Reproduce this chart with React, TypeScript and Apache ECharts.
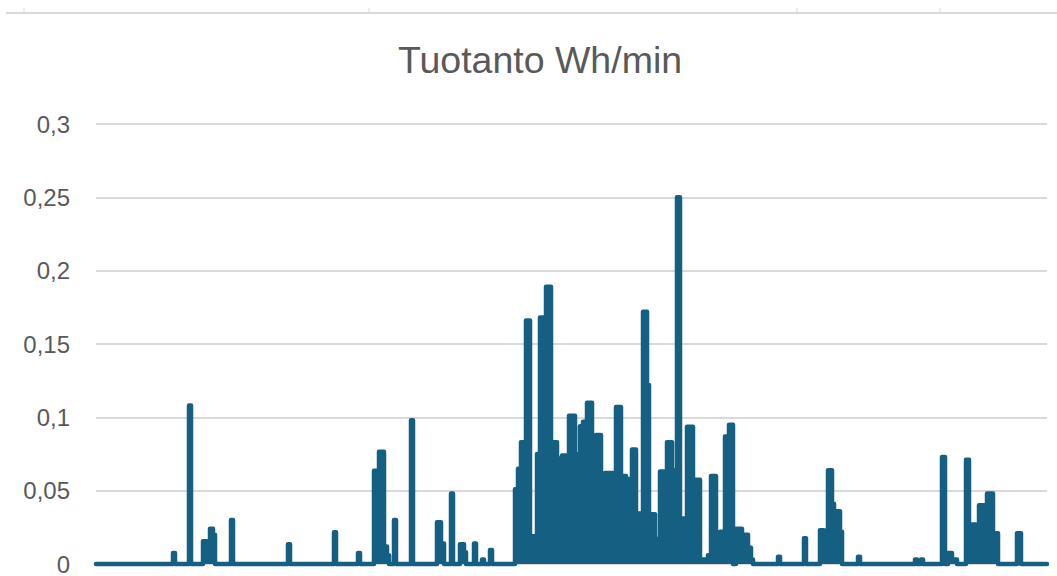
import React, { useEffect, useRef } from "react";
import * as echarts from "echarts";

const TITLE = "Tuotanto Wh/min";
const yTicks = [0, 0.05, 0.1, 0.15, 0.2, 0.25, 0.3];

// minute index where a value starts (held until the next minute listed) and
// the production value (Wh/min)
const minutes = [
  0, 77, 79, 93, 95, 107, 111, 114, 117, 119, 135, 137, 192, 194, 238, 240,
  262, 264, 278, 283, 288, 291, 293, 298, 300, 315, 317, 341, 345, 348, 355,
  357, 364, 368, 370, 378, 380, 386, 388, 394, 396,
  419, 422, 425, 430, 434, 441, 444, 450, 455, 461, 466, 473, 479, 482, 484,
  487, 491, 496, 500, 505, 509, 520, 525, 530, 536, 540, 547, 551, 553, 559,
  564, 571, 576, 581, 584, 591, 597, 604, 612, 615, 620, 624, 629, 633, 637,
  640, 646, 652, 655, 657,
  682, 684, 708, 710, 724, 728, 732, 736, 738, 744, 746, 762, 764, 819, 821,
  825, 827, 846, 849, 852, 856, 861, 870, 873, 880, 883, 891, 897, 902, 921,
  925, 951,
];
const values = [
  0, 0.0075, 0, 0.108, 0, 0.0155, 0.014, 0.024, 0.02, 0, 0.03, 0, 0.0135, 0, 0.0217, 0,
  0.0075, 0, 0.0636, 0.0765, 0.012, 0.006, 0, 0.03, 0, 0.098, 0, 0.0285, 0.014, 0, 0.048,
  0, 0.0135, 0.008, 0, 0.014, 0, 0.003, 0, 0.0095, 0,
  0.051, 0.065, 0.083, 0.166, 0.019, 0.075, 0.168, 0.189, 0.083, 0.072, 0.074, 0.101, 0.039, 0.075, 0.094,
  0.097, 0.11, 0.03, 0.088, 0.053, 0.062, 0.107, 0.06, 0.058, 0.078, 0.0345, 0.172, 0.122, 0.034, 0.017,
  0.063, 0.083, 0.064, 0.25, 0.031, 0.0935, 0.0575, 0.003, 0.006, 0.06, 0.01, 0.022, 0.087, 0.095, 0,
  0.024, 0.02, 0.011, 0.003, 0,
  0.005, 0, 0.0175, 0, 0.023, 0.012, 0.064, 0.041, 0.036, 0.022, 0, 0.005, 0, 0.003, 0,
  0.003, 0, 0.073, 0, 0.0075, 0.003, 0, 0.071, 0.027, 0.024, 0.04, 0.048, 0.021, 0, 0.021,
  0, 0,
];

const topTicks = [24, 369, 797, 940];
const BLUE = "#156082";

export default function App() {
  const ref = useRef<HTMLDivElement>(null);
  useEffect(() => {
    if (!ref.current) return;
    const chart = echarts.init(ref.current, null, { renderer: "svg" });
    const data = minutes.map((m, i) => [m, values[i]]);
    chart.setOption({
      animation: false,
      backgroundColor: "#ffffff",
      grid: { left: 96, right: 10, top: 124, bottom: 8, containLabel: false },
      xAxis: {
        type: "value",
        min: 0,
        max: 951,
        show: false,
      },
      yAxis: {
        type: "value",
        min: 0,
        max: 0.3,
        interval: 0.05,
        axisLine: { show: false },
        axisTick: { show: false },
        axisLabel: {
          margin: 26,
          fontFamily: "Liberation Sans",
          fontSize: 24,
          color: "#595959",
          formatter: (v: number) => {
            const idx = yTicks.findIndex((t) => Math.abs(t - v) < 1e-9);
            const t = idx >= 0 ? yTicks[idx] : v;
            return String(+t.toFixed(2)).replace(".", ",");
          },
        },
        splitLine: { lineStyle: { color: "#d9d9d9", width: 2 } },
      },
      series: [
        {
          type: "line",
          data,
          step: "end",
          showSymbol: false,
          symbol: "none",
          clip: false,
          lineStyle: { color: BLUE, width: 4.5, cap: "round", join: "round" },
          areaStyle: { color: BLUE, opacity: 1 },
        },
      ],
      graphic: [
        {
          type: "text",
          x: 540,
          y: 41,
          style: {
            text: TITLE,
            fontFamily: "Liberation Sans",
            fontSize: 37.5,
            fill: "#595959",
            textAlign: "center",
            textVerticalAlign: "top",
          },
        },
        {
          type: "line",
          shape: { x1: 6, y1: 13, x2: 1057, y2: 13 },
          style: { stroke: "#d9d9d9", lineWidth: 2 },
        },
        ...topTicks.map((x) => ({
          type: "line",
          shape: { x1: x, y1: 8, x2: x, y2: 13 },
          style: { stroke: "#d9d9d9", lineWidth: 1 },
        })),
      ],
    });
    return () => chart.dispose();
  }, []);
  return (
    <div
      ref={ref}
      style={{ position: "fixed", left: 0, top: 0, width: 1057, height: 576 }}
    />
  );
}
